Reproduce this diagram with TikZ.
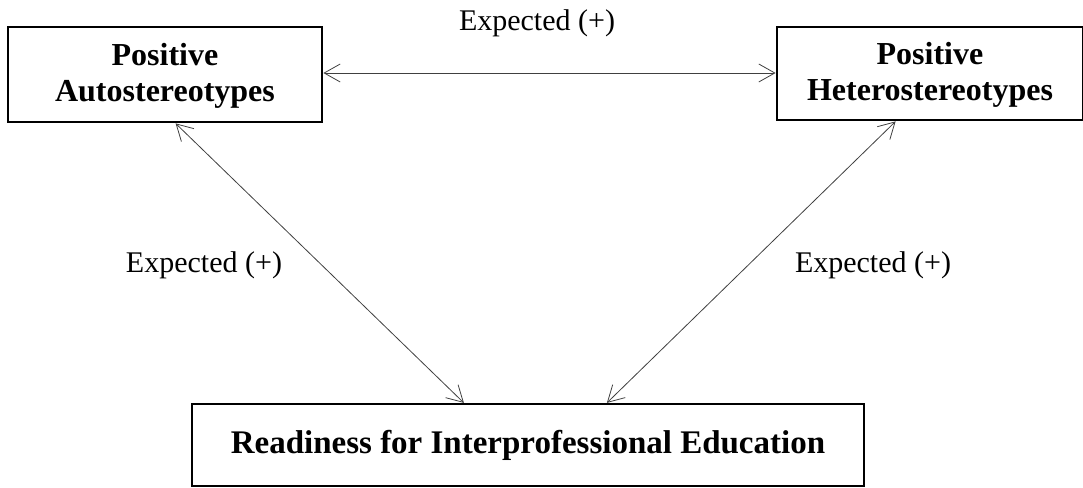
\documentclass[tikz,border=0pt]{standalone}
\usepackage{fontspec}
\setmainfont{Liberation Serif}
\usetikzlibrary{arrows.meta,calc}
\tikzset{
  box/.style={draw, line width=2.8pt, inner sep=0pt, align=center, font=\fontsize{32}{36}\selectfont\bfseries},
  link/.style={line width=0.8pt, draw=black!75, {Straight Barb[length=16pt,width=18pt,line width=0.8pt]}-{Straight Barb[length=16pt,width=18pt,line width=0.8pt]}},
  lbl/.style={font=\fontsize{30}{33}\selectfont, inner sep=0pt}
}
\begin{document}
\begin{tikzpicture}[x=1pt,y=1pt]
\useasboundingbox (0,0) rectangle (1083,487);
\node[box, minimum width=314pt, minimum height=95pt, text depth=4pt] (auto) at (165,412.5) {Positive\\Autostereotypes};
\node[box, minimum width=306pt, minimum height=93pt, text depth=4pt] (hetero) at (930,413.5) {Positive\\Heterostereotypes};
\node[box, line width=2.2pt, minimum width=672pt, minimum height=82pt, font=\fontsize{33}{36}\selectfont\bfseries] (ready) at (528,42) {Readiness for Interprofessional Education};
\draw[link] (auto.east |- 0,414) -- (hetero.west |- 0,414);
\draw[link] ([xshift=169pt]auto.south west) -- ([xshift=273pt]ready.north west);
\draw[link] ([xshift=120pt]hetero.south west) -- ([xshift=416pt]ready.north west);
\node[lbl] (l1) at (537,464) {Expected (+)};
\node[lbl] (l2) at (204,222) {Expected (+)};
\node[lbl] (l3) at (873,222) {Expected (+)};
\end{tikzpicture}
\end{document}
